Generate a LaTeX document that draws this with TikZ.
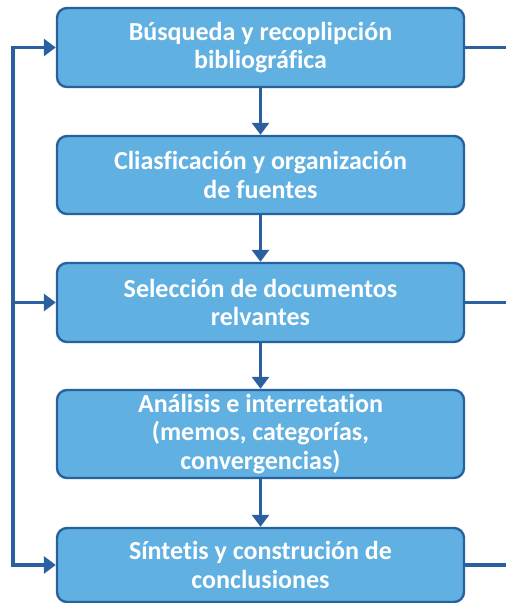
\documentclass[tikz,border=0pt]{standalone}
\usepackage{fontspec}
\setmainfont{Carlito}[Ligatures=NoCommon]
\usetikzlibrary{arrows.meta}
\definecolor{boxfill}{RGB}{96,176,226}
\definecolor{boxline}{RGB}{40,98,158}
\definecolor{conn}{RGB}{42,96,160}
\tikzset{
  stepbox/.style={draw=boxline, line width=2.4pt, fill=boxfill, rounded corners=10pt,
    minimum width=407pt, text=white, align=center, inner sep=0pt,
    font=\fontsize{26}{28.5}\selectfont\bfseries},
  conline/.style={draw=conn, line width=3.2pt},
  conarrow/.style={conline, -{Triangle[length=12pt,width=17pt]}},
}
\begin{document}
\begin{tikzpicture}[x=1pt,y=-1pt]
\useasboundingbox (0,0) rectangle (506,603);
\node[stepbox, minimum height=79pt] (b1) at (260.5,47.5) {Búsqueda y recoplipción\\bibliográfica};
\node[stepbox, minimum height=78pt] (b2) at (260.5,175) {Cliasficación y organización\\de fuentes};
\node[stepbox, minimum height=79pt] (b3) at (260.5,302.5) {Selección de documentos\\relvantes};
\node[stepbox, minimum height=88pt] (b4) at (260.5,434) {Análisis e interretation\\(memos, categorías,\\convergencias)};
\node[stepbox, minimum height=74pt] (b5) at (260.5,565) {Síntetis y construción de\\conclusiones};
\draw[conarrow] (b1.south) -- (b2.north);
\draw[conarrow] (b2.south) -- (b3.north);
\draw[conarrow] (b3.south) -- (b4.north);
\draw[conarrow] (b4.south) -- (b5.north);
\coordinate (l1) at (13,47.5);
\coordinate (l3) at (13,302.5);
\coordinate (l5) at (13,565);
\draw[conline, line cap=rect] (l1) -- (l5);
\draw[conarrow] (l1) -- (b1.west);
\draw[conarrow] (l3) -- (b3.west);
\draw[conarrow] (l5) -- (b5.west);
\coordinate (r1) at (506,47.5);
\coordinate (r3) at (506,302.5);
\coordinate (r5) at (506,565);
\draw[conline] (b1.east) -- (r1);
\draw[conline] (b3.east) -- (r3);
\draw[conline] (b5.east) -- (r5);
\end{tikzpicture}
\end{document}
